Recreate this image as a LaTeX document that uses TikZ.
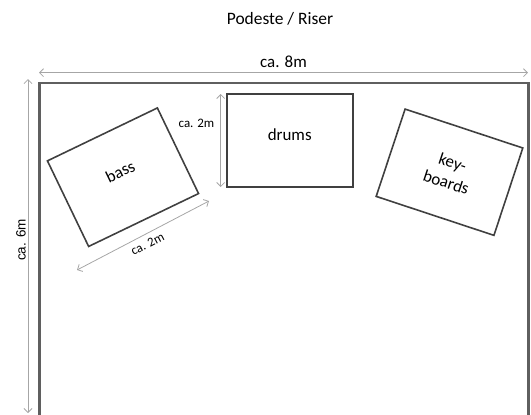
\documentclass[tikz,border=0pt]{standalone}
\usepackage{fontspec}
\setmainfont{Carlito}
\newfontfamily\arialike{Liberation Sans}
\usepackage{tikz}
\usetikzlibrary{arrows.meta,calc,positioning}
\definecolor{wallgray}{HTML}{5F5F5F}
\definecolor{boxgray}{HTML}{404040}
\definecolor{dimgray}{HTML}{A6A6A6}
\tikzset{%
	wall/.style    = {draw=wallgray, line width=2.4pt},
	instr/.style   = {draw=boxgray, line width=1.6pt, rectangle, align=center, font=\fontsize{17}{21}\selectfont},
	lifted/.style  = {text height=10bp, text depth=11bp},
	dimline/.style = {draw=dimgray, line width=0.8pt, {Straight Barb[length=4pt,width=8pt]}-{Straight Barb[length=4pt,width=8pt]}},
	dimlabel/.style= {font=\fontsize{13}{13}\selectfont, inner sep=1pt},
}
\begin{document}
\begin{tikzpicture}[x=1bp,y=1bp]
	\useasboundingbox (0,0) rectangle (531,414);
	\clip (0,0) rectangle (531,414);
	\node[font=\fontsize{17.5}{17.5}\selectfont] (title) at (280,395) {Podeste / Riser};
	% stage outline, open at the bottom
	\draw[wall] (39.5,-5) -- (39.5,330.7) -- (528.5,330.7) -- (528.5,-5);
	% instruments
	\node[instr, lifted, minimum width=126bp, minimum height=93bp] (drums) at (289.7,273.5) {drums};
	\node[instr, lifted, minimum width=122bp, minimum height=95bp, rotate=25.7] (bass) at (123,236.8) {bass};
	\node[instr, minimum width=124bp, minimum height=92bp, rotate=-18.3] (keys) at (449.5,241.8) {key-\\boards};
	% dimensions
	\coordinate (wl) at (39,341.3);
	\coordinate (wr) at (528,341.3);
	\draw[dimline] (wl) -- (wr) node[midway, above=1bp, font=\fontsize{17}{17}\selectfont] (w) {ca. 8m};
	\coordinate (dt) at (28,335);
	\coordinate (db) at (28,1);
	\draw[dimline] (dt) -- (db);
	\node[rotate=90, font=\arialike\fontsize{13.5}{13.5}\selectfont] (d) at (21,174) {ca. 6m};
	\coordinate (rt) at (220.7,320);
	\coordinate (rb) at (220.7,227);
	\draw[dimline] (rt) -- (rb);
	\node[dimlabel, anchor=east] (dl) at (215.5,291) {ca. 2m};
	\coordinate (bl) at (77,144);
	\coordinate (br) at (209,213);
	\draw[dimline] (bl) -- (br) node[dimlabel, midway, sloped, below=4bp] (bw) {ca. 2m};
\end{tikzpicture}
\end{document}
